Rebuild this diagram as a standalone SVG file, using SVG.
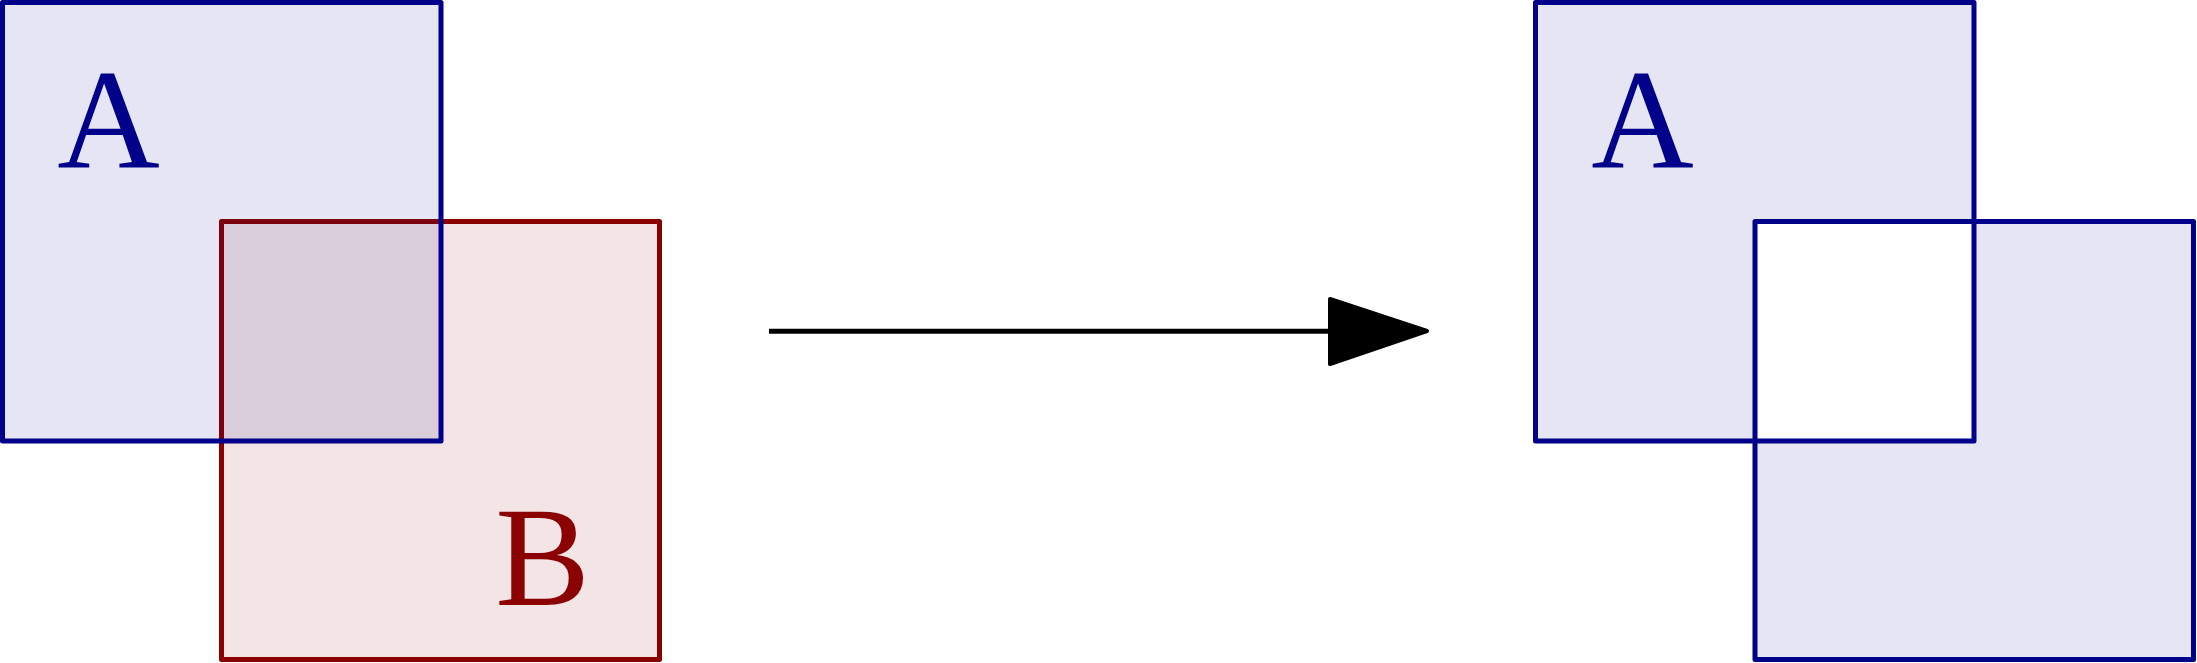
<svg xmlns="http://www.w3.org/2000/svg" width="2197" height="663" viewBox="0 0 2197 663">
<style>
.blue{stroke:#00008B;stroke-width:5;stroke-linejoin:round}
.red{stroke:#8B0000;stroke-width:5;stroke-linejoin:round}
.bfill{fill:#00008B;fill-opacity:0.1}
.rfill{fill:#8B0000;fill-opacity:0.1}
.lbl{font-family:"Liberation Serif","DejaVu Serif",serif;font-size:142px;text-anchor:middle}
</style>
<rect width="2197" height="663" fill="#ffffff"/>
<g id="left-B">
<rect x="221.5" y="221.5" width="438" height="438" class="red rfill"/>
<text x="542.5" y="605" class="lbl" fill="#8B0000">B</text>
</g>
<g id="left-A">
<rect x="2.5" y="2.5" width="438.5" height="438.5" class="blue bfill"/>
<text x="108.5" y="167" class="lbl" fill="#00008B">A</text>
</g>
<g id="connectors">
<line x1="769" y1="331.3" x2="1332" y2="331.3" stroke="#000" stroke-width="5"/>
<polygon points="1330,299 1427,331 1330,364" fill="#000" stroke="#000" stroke-width="4" stroke-linejoin="round"/>
</g>
<g id="right-xor">
<path d="M1535.5,2.5H1974V441H1535.5Z M1755,221.5H2193.5V659.5H1755Z" fill-rule="evenodd" class="bfill"/>
<rect x="1755" y="221.5" width="438.5" height="438" fill="none" class="blue"/>
<rect x="1535.5" y="2.5" width="438.5" height="438.5" fill="none" class="blue"/>
<text x="1642.5" y="167" class="lbl" fill="#00008B">A</text>
</g>
</svg>
